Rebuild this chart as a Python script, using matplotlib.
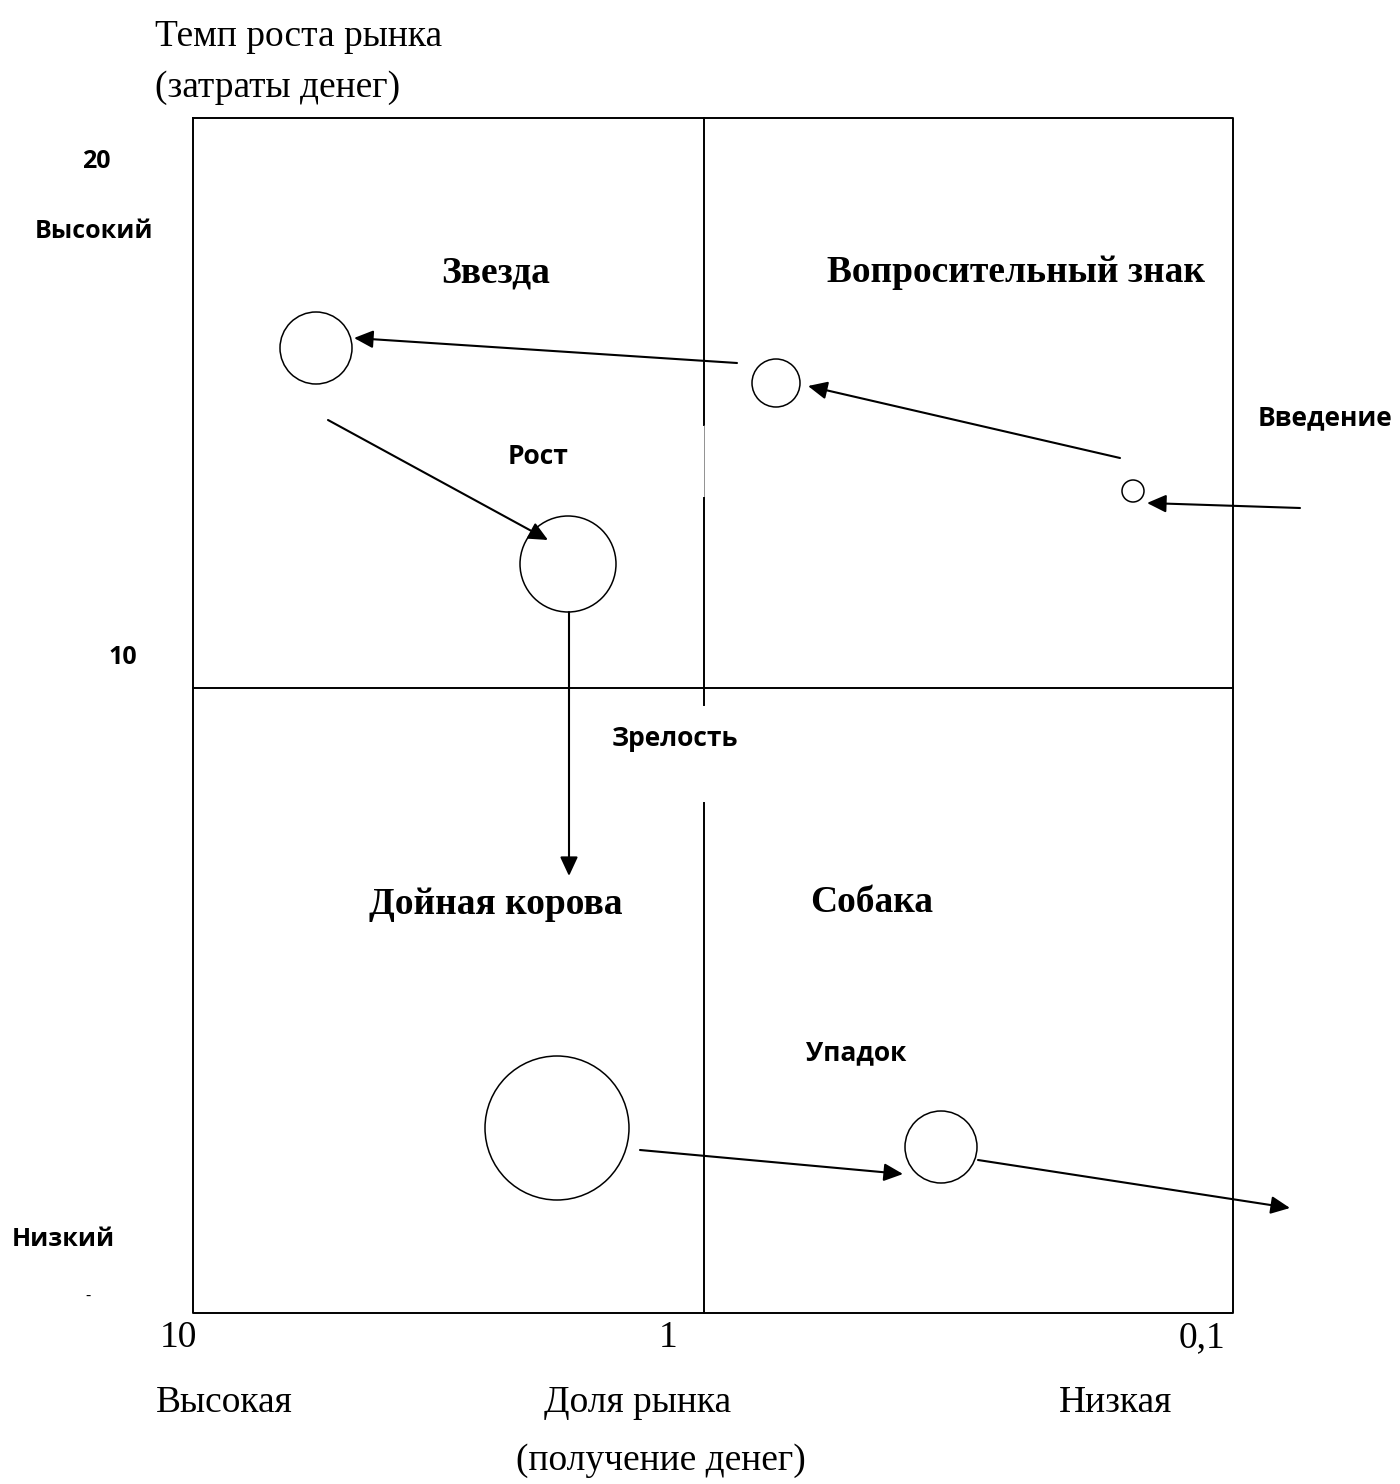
import matplotlib.pyplot as plt
from matplotlib.patches import Circle

# Diagram coordinates (pixels of the 1400x1484 sheet, y grows downward)
box = (193, 118, 1233, 1313)   # left, top, right, bottom
mid_x = 704
mid_y = 688

# circles: centre x, centre y, radius
circle_x = [316, 776, 1133, 568, 557, 941]
circle_y = [348, 383, 491, 564, 1128, 1147]
circle_r = [36, 24, 11, 48, 72, 36]

# arrows: start -> end
arrow_start = [(1300, 508), (1120, 458), (737, 363), (328, 420), (569, 612), (640, 1150), (978, 1160)]
arrow_end = [(1147, 503), (808, 386), (354, 338), (548, 540), (569, 876), (903, 1174), (1290, 1208)]

quadrant_names = ["Звезда", "Вопросительный знак", "Дойная корова", "Собака"]
quadrant_pos = [(496, 273), (1016, 273), (496, 905), (872, 902)]

stage_names = ["Введение", "Рост", "Зрелость", "Упадок"]
stage_pos = [(1258, 418), (508, 457), (612, 738), (806, 1053)]

y_ticks = ["20", "10"]
y_tick_pos = [(82, 162), (108, 658)]
y_levels = ["Высокий", "Низкий"]
y_level_pos = [(35, 232), (12, 1240)]

x_ticks = ["10", "1", "0,1"]
x_tick_x = [178, 668, 1202]
x_levels = ["Высокая", "Доля рынка", "Низкая"]
x_level_x = [224, 638, 1115]

fig = plt.figure(figsize=(14, 14.84), dpi=100)
ax = fig.add_axes([0, 0, 1, 1])
ax.set_xlim(0, 1400)
ax.set_ylim(1484, 0)
ax.axis("off")

serif = "Liberation Serif"
sans = "Open Sans"

# frame and quadrant lines
l, t, r, b = box
ax.plot([l, r, r, l, l], [t, t, b, b, t], color="black", lw=1.4)
ax.plot([l, r], [mid_y, mid_y], color="black", lw=1.4)
ax.plot([mid_x, mid_x], [t, 425], color="black", lw=1.4)
ax.plot([mid_x, mid_x], [425, 498], color="#666666", lw=0.5)
ax.plot([mid_x, mid_x], [498, 705], color="black", lw=1.4)
ax.plot([mid_x, mid_x], [803, b], color="black", lw=1.4)

for cx, cy, cr in zip(circle_x, circle_y, circle_r):
    ax.add_patch(Circle((cx, cy), cr, fill=False, edgecolor="black", lw=1.1))

for s, e in zip(arrow_start, arrow_end):
    ax.annotate("", xy=e, xytext=s,
                arrowprops=dict(arrowstyle="-|>,head_length=0.58,head_width=0.27",
                                color="black", lw=1.5,
                                mutation_scale=20, shrinkA=0, shrinkB=0))

for name, (x, y) in zip(quadrant_names, quadrant_pos):
    ax.text(x, y, name, family=serif, weight="bold", fontsize=27, ha="center", va="center")

for name, (x, y) in zip(stage_names, stage_pos):
    ax.text(x, y, name, family=sans, weight="bold", fontsize=19, ha="left", va="center")

for name, (x, y) in zip(y_ticks + y_levels, y_tick_pos + y_level_pos):
    ax.text(x, y, name, family=sans, weight="bold", fontsize=18, ha="left", va="center")
ax.text(88, 1297, "-", family=sans, fontsize=12, ha="center", va="center")

ax.text(155, 46, "Темп роста рынка", family=serif, fontsize=27, ha="left", va="baseline")
ax.text(155, 97, "(затраты денег)", family=serif, fontsize=27, ha="left", va="baseline")

for name, x in zip(x_ticks, x_tick_x):
    ax.text(x, 1347, name, family=serif, fontsize=27, ha="center", va="baseline")
for name, x in zip(x_levels, x_level_x):
    ax.text(x, 1412, name, family=serif, fontsize=27, ha="center", va="baseline")
ax.text(661, 1470, "(получение денег)", family=serif, fontsize=27, ha="center", va="baseline")

fig.savefig("out.png", dpi=100)
